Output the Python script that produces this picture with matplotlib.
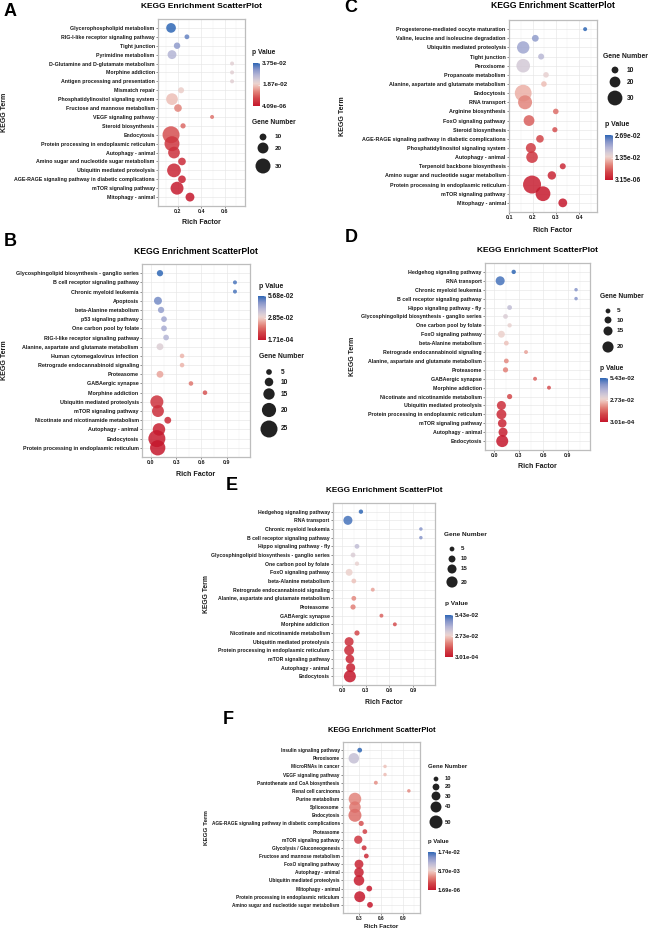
import numpy as np
import matplotlib
matplotlib.use("Agg")
import matplotlib.pyplot as plt
from matplotlib.colors import LinearSegmentedColormap, Normalize
from matplotlib.cm import ScalarMappable
from matplotlib.ticker import FixedLocator, FormatStrFormatter

plt.rcParams['font.family'] = ['Liberation Sans', 'DejaVu Sans']
plt.rcParams['font.weight'] = 'bold'

W, H = 651, 931

# ---------------- data ----------------
a_terms = ["Glycerophospholipid metabolism", "RIG-I-like receptor signaling pathway", "Tight junction",
           "Pyrimidine metabolism", "D-Glutamine and D-glutamate metabolism", "Morphine addiction",
           "Antigen processing and presentation", "Mismatch repair", "Phosphatidylinositol signaling system",
           "Fructose and mannose metabolism", "VEGF signaling pathway", "Steroid biosynthesis", "Endocytosis",
           "Protein processing in endoplasmic reticulum", "Autophagy - animal",
           "Amino sugar and nucleotide sugar metabolism", "Ubiquitin mediated proteolysis",
           "AGE-RAGE signaling pathway in diabetic complications", "mTOR signaling pathway", "Mitophagy - animal"]
a_rich = [0.145, 0.28, 0.196, 0.153, 0.664, 0.664, 0.664, 0.23, 0.153, 0.204, 0.494, 0.247, 0.145, 0.153,
          0.17, 0.238, 0.17, 0.238, 0.196, 0.306]
a_genes = [17, 5, 9, 15, 3, 3, 3, 8, 22, 12, 3, 6, 35, 30, 22, 12, 27, 12, 25, 15]
a_pval = [0.03746, 0.034, 0.031, 0.027, 0.021, 0.021, 0.021, 0.019, 0.0175, 0.0125, 0.011, 0.010, 0.0075,
          0.0045, 0.0035, 0.0028, 0.002, 0.0012, 0.0006, 4.09e-06]
a_gene_breaks = [10, 20, 30]

b_terms = ["Glycosphingolipid biosynthesis - ganglio series", "B cell receptor signaling pathway",
           "Chronic myeloid leukemia", "Apoptosis", "beta-Alanine metabolism", "p53 signaling pathway",
           "One carbon pool by folate", "RIG-I-like receptor signaling pathway",
           "Alanine, aspartate and glutamate metabolism", "Human cytomegalovirus infection",
           "Retrograde endocannabinoid signaling", "Proteasome", "GABAergic synapse", "Morphine addiction",
           "Ubiquitin mediated proteolysis", "mTOR signaling pathway", "Nicotinate and nicotinamide metabolism",
           "Autophagy - animal", "Endocytosis", "Protein processing in endoplasmic reticulum"]
b_rich = [0.107, 1.0, 1.0, 0.083, 0.12, 0.155, 0.155, 0.18, 0.107, 0.37, 0.37, 0.107, 0.476, 0.643, 0.07,
          0.083, 0.2, 0.095, 0.07, 0.08]
b_genes = [6, 2, 2, 9, 6, 5, 5, 5, 7, 3, 3, 7, 3, 3, 18, 16, 7, 17, 25, 22]
b_pval = [0.05683, 0.054, 0.054, 0.05, 0.046, 0.044, 0.043, 0.041, 0.033, 0.025, 0.025, 0.023, 0.017,
          0.012, 0.006, 0.005, 0.004, 0.002, 0.001, 0.000171]
b_gene_breaks = [5, 10, 15, 20, 25]

c_terms = ["Progesterone-mediated oocyte maturation", "Valine, leucine and isoleucine degradation",
           "Ubiquitin mediated proteolysis", "Tight junction", "Peroxisome", "Propanoate metabolism",
           "Alanine, aspartate and glutamate metabolism", "Endocytosis", "RNA transport",
           "Arginine biosynthesis", "FoxO signaling pathway", "Steroid biosynthesis",
           "AGE-RAGE signaling pathway in diabetic complications", "Phosphatidylinositol signaling system",
           "Autophagy - animal", "Terpenoid backbone biosynthesis", "Amino sugar and nucleotide sugar metabolism",
           "Protein processing in endoplasmic reticulum", "mTOR signaling pathway", "Mitophagy - animal"]
c_rich = [0.426, 0.212, 0.16, 0.237, 0.16, 0.258, 0.249, 0.16, 0.168, 0.3, 0.185, 0.296, 0.232, 0.193,
          0.198, 0.33, 0.283, 0.198, 0.245, 0.33]
c_genes = [3, 10, 24, 8, 27, 7, 7, 35, 28, 7, 20, 6, 12, 18, 22, 8, 14, 38, 30, 15]
c_pval = [0.0269, 0.022, 0.021, 0.019, 0.0165, 0.0145, 0.0125, 0.0115, 0.009, 0.0075, 0.0065, 0.0055,
          0.0045, 0.0035, 0.003, 0.002, 0.0015, 0.0008, 0.0003, 3.15e-06]
c_gene_breaks = [10, 20, 30]

de_terms = ["Hedgehog signaling pathway", "RNA transport", "Chronic myeloid leukemia",
            "B cell receptor signaling pathway", "Hippo signaling pathway - fly",
            "Glycosphingolipid biosynthesis - ganglio series", "One carbon pool by folate",
            "FoxO signaling pathway", "beta-Alanine metabolism", "Retrograde endocannabinoid signaling",
            "Alanine, aspartate and glutamate metabolism", "Proteasome", "GABAergic synapse",
            "Morphine addiction", "Nicotinate and nicotinamide metabolism", "Ubiquitin mediated proteolysis",
            "Protein processing in endoplasmic reticulum", "mTOR signaling pathway", "Autophagy - animal",
            "Endocytosis"]
de_rich = [0.24, 0.075, 1.0, 1.0, 0.19, 0.14, 0.19, 0.09, 0.15, 0.39, 0.15, 0.14, 0.5, 0.67, 0.19, 0.09,
           0.09, 0.1, 0.11, 0.1]
de_genes = [4, 15, 2, 2, 5, 5, 4, 10, 5, 3, 5, 6, 3, 3, 6, 15, 17, 14, 15, 22]
de_pval = [0.0543, 0.052, 0.046, 0.046, 0.037, 0.032, 0.029, 0.028, 0.026, 0.022, 0.019, 0.018, 0.014,
           0.011, 0.010, 0.005, 0.004, 0.003, 0.002, 0.000301]
de_gene_breaks = [5, 10, 15, 20]

f_terms = ["Insulin signaling pathway", "Peroxisome", "MicroRNAs in cancer", "VEGF signaling pathway",
           "Pantothenate and CoA biosynthesis", "Renal cell carcinoma", "Purine metabolism", "Spliceosome",
           "Endocytosis", "AGE-RAGE signaling pathway in diabetic complications", "Proteasome",
           "mTOR signaling pathway", "Glycolysis / Gluconeogenesis", "Fructose and mannose metabolism",
           "FoxO signaling pathway", "Autophagy - animal", "Ubiquitin mediated proteolysis",
           "Mitophagy - animal", "Protein processing in endoplasmic reticulum",
           "Amino sugar and nucleotide sugar metabolism"]
f_rich = [0.31, 0.23, 0.655, 0.655, 0.53, 0.98, 0.245, 0.245, 0.245, 0.33, 0.38, 0.29, 0.37, 0.4, 0.3,
          0.3, 0.3, 0.44, 0.31, 0.45]
f_genes = [10, 38, 4, 4, 6, 4, 48, 43, 50, 12, 10, 27, 11, 10, 30, 33, 38, 15, 40, 15]
f_pval = [0.0174, 0.0115, 0.0082, 0.0080, 0.0062, 0.006, 0.0058, 0.0052, 0.0048, 0.0035, 0.0027, 0.002,
          0.0016, 0.0013, 0.0009, 0.0006, 0.0004, 0.00025, 1e-05, 1.69e-06]
f_gene_breaks = [10, 20, 30, 40, 50]

# ---------------- layout (pixels) ----------------
layouts = [
    dict(letter="A", lpos=(10, 12), box=(158, 19, 245, 206), xlim=(0.034, 0.774), xticks=[0.2, 0.4, 0.6],
         title_y=6, xlab_y=223, ylab_x=5, size=(4, 17), fs=1.0,
         ptitle=(252, 52), cbar=(253, 63, 260, 106), gtitle=(252, 122), gkey_x=263, glab_x=275,
         gkey_y=[137, 148, 166]),
    dict(letter="B", lpos=(10, 241), box=(142, 264, 250, 457), xlim=(-0.107, 1.179),
         xticks=[0.0, 0.3, 0.6, 0.9], title_y=251, xlab_y=474, ylab_x=5, size=(4, 17), fs=1.03,
         ptitle=(259, 286), cbar=(258, 296, 266, 340), gtitle=(259, 356), gkey_x=269, glab_x=281,
         gkey_y=[372, 382, 394, 410, 429]),
    dict(letter="C", lpos=(351, 8), box=(509, 20, 597, 212), xlim=(0.099, 0.477), xticks=[0.1, 0.2, 0.3, 0.4],
         title_y=6, xlab_y=230, ylab_x=343, size=(4, 18), fs=1.03,
         ptitle=(605, 125), cbar=(605, 135, 613, 180), gtitle=(603, 57), gkey_x=615, glab_x=627,
         gkey_y=[70, 82, 98]),
    dict(letter="D", lpos=(351, 238), box=(485, 263, 590, 450), xlim=(-0.11, 1.17),
         xticks=[0.0, 0.3, 0.6, 0.9], title_y=250, xlab_y=467, ylab_x=352, size=(3.5, 12), fs=1.0,
         ptitle=(600, 368), cbar=(600, 378, 608, 422), gtitle=(600, 296), gkey_x=608, glab_x=617,
         gkey_y=[311, 320, 331, 347]),
    dict(letter="E", lpos=(232, 485), box=(333, 503, 435, 685), xlim=(-0.114, 1.179),
         xticks=[0.0, 0.3, 0.6, 0.9], title_y=491, xlab_y=702, ylab_x=207, size=(3.5, 12), fs=0.97,
         ptitle=(445, 604), cbar=(445, 615, 453, 657), gtitle=(444, 535), gkey_x=452, glab_x=461,
         gkey_y=[549, 559, 569, 582]),
    dict(letter="F", lpos=(228, 719), box=(343, 742, 420, 913), xlim=(0.082, 1.132), xticks=[0.3, 0.6, 0.9],
         title_y=730, xlab_y=927, ylab_x=207, size=(3.5, 13), fs=0.9,
         ptitle=(428, 842), cbar=(428, 852, 436, 890), gtitle=(428, 766), gkey_x=436, glab_x=445,
         gkey_y=[779, 787, 796, 807, 822]),
]
datasets = [
    (a_terms, a_rich, a_genes, a_pval, a_gene_breaks),
    (b_terms, b_rich, b_genes, b_pval, b_gene_breaks),
    (c_terms, c_rich, c_genes, c_pval, c_gene_breaks),
    (de_terms, de_rich, de_genes, de_pval, de_gene_breaks),
    (de_terms, de_rich, de_genes, de_pval, de_gene_breaks),
    (f_terms, f_rich, f_genes, f_pval, f_gene_breaks),
]

cmap = LinearSegmentedColormap.from_list('pv', [
    (0.0, '#C5172C'), (0.18, '#D3484B'), (0.33, '#E28279'), (0.45, '#EDB9B0'), (0.52, '#EBD3CF'),
    (0.6, '#D7CCD6'), (0.72, '#B5B5D5'), (0.86, '#8393C9'), (1.0, '#2F67B5')])

fig = plt.figure(figsize=(W / 100, H / 100), dpi=100)
ov = fig.add_axes([0, 0, 1, 1])
ov.set_xlim(0, W)
ov.set_ylim(H, 0)
ov.axis('off')

PX2PT = 72 / 100
TXT = '#1A1A1A'


def add_ax(l, t, r, b):
    return fig.add_axes([l / W, 1 - b / H, (r - l) / W, (b - t) / H])


def diam(g, gmin, gmax, dmin, dmax):
    g = np.asarray(g, dtype=float)
    return dmin + (dmax - dmin) * (g - gmin) / (gmax - gmin)


for lay, (terms, rich, genes, pval, gbreaks) in zip(layouts, datasets):
    fs = lay['fs']
    l, t, r, b = lay['box']
    ax = add_ax(l, t, r, b)
    n = len(terms)
    ypos = np.arange(n, 0, -1)
    gmin, gmax = min(genes), max(genes)
    dmin, dmax = lay['size']
    d = diam(genes, gmin, gmax, dmin, dmax)
    vmin, vmax = min(pval), max(pval)
    norm = Normalize(vmin=vmin, vmax=vmax)
    ax.scatter(rich, ypos, s=(d * PX2PT) ** 2, c=pval, cmap=cmap, norm=norm, alpha=0.85,
               linewidths=0, zorder=3)
    ax.set_ylim(1 - 1.0, n + 1.0)
    ax.set_xlim(*lay['xlim'])
    ax.set_yticks(ypos)
    ax.set_yticklabels(terms)
    xt = lay['xticks']
    ax.xaxis.set_major_locator(FixedLocator(xt))
    step = xt[1] - xt[0]
    minors = np.arange(xt[0] - step / 2, lay['xlim'][1] + step, step)
    ax.xaxis.set_minor_locator(FixedLocator(minors))
    ax.xaxis.set_major_formatter(FormatStrFormatter('%.1f'))
    ax.tick_params(axis='both', which='major', labelsize=3.8 * fs, length=1.6, width=0.4, color='#333333',
                   pad=0.8, labelcolor=TXT)
    ax.tick_params(axis='x', which='minor', length=0)
    ax.grid(True, which='major', color='#E6E6E6', lw=0.45, zorder=0)
    ax.grid(True, which='minor', axis='x', color='#F0F0F0', lw=0.3, zorder=0)
    ax.set_axisbelow(True)
    for sp in ax.spines.values():
        sp.set_color('#BDBDBD')
        sp.set_linewidth(0.9)
    for lab in ax.get_yticklabels() + ax.get_xticklabels():
        lab.set_fontweight('bold')

    cx = (l + r) / 2
    ov.text(cx, lay['title_y'], "KEGG Enrichment ScatterPlot", ha='center', va='center', fontsize=6 * fs,
            fontweight='bold', color='black')
    ov.text(cx, lay['xlab_y'], "Rich Factor", ha='center', va='center', fontsize=5 * fs, fontweight='bold',
            color=TXT)
    ov.text(lay['ylab_x'], (t + b) / 2, "KEGG Term", ha='center', va='center', fontsize=5 * fs,
            fontweight='bold', rotation=90, color=TXT)
    ov.text(lay['lpos'][0], lay['lpos'][1], lay['letter'], ha='center', va='center', fontsize=13,
            fontweight='bold', color='black')

    # p value colour bar
    ov.text(lay['ptitle'][0], lay['ptitle'][1], "p Value", ha='left', va='center', fontsize=4.8 * fs,
            fontweight='bold', color=TXT)
    cl, ct, cr, cb = lay['cbar']
    cax = add_ax(cl, ct, cr, cb)
    cbar = fig.colorbar(ScalarMappable(norm=norm, cmap=cmap), cax=cax)
    cbar.outline.set_visible(False)
    cbar.set_ticks([vmin, (vmin + vmax) / 2, vmax])
    cbar.ax.yaxis.set_major_formatter(FormatStrFormatter('%.2e'))
    cax.tick_params(labelsize=4.6 * fs, length=1.5, width=0.4, color='white', direction='in', pad=1.5,
                    labelcolor=TXT)
    for lab in cax.get_yticklabels():
        lab.set_fontweight('bold')

    # gene number legend
    ov.text(lay['gtitle'][0], lay['gtitle'][1], "Gene Number", ha='left', va='center', fontsize=4.8 * fs,
            fontweight='bold', color=TXT)
    kd = diam(gbreaks, gmin, gmax, dmin, dmax)
    ov.scatter([lay['gkey_x']] * len(gbreaks), lay['gkey_y'], s=(kd * PX2PT) ** 2, c='#222222',
               linewidths=0)
    for gb, ky in zip(gbreaks, lay['gkey_y']):
        ov.text(lay['glab_x'], ky, str(gb), ha='left', va='center', fontsize=4.6 * fs, fontweight='bold',
                color=TXT)

fig.savefig("out.png", dpi=100)
